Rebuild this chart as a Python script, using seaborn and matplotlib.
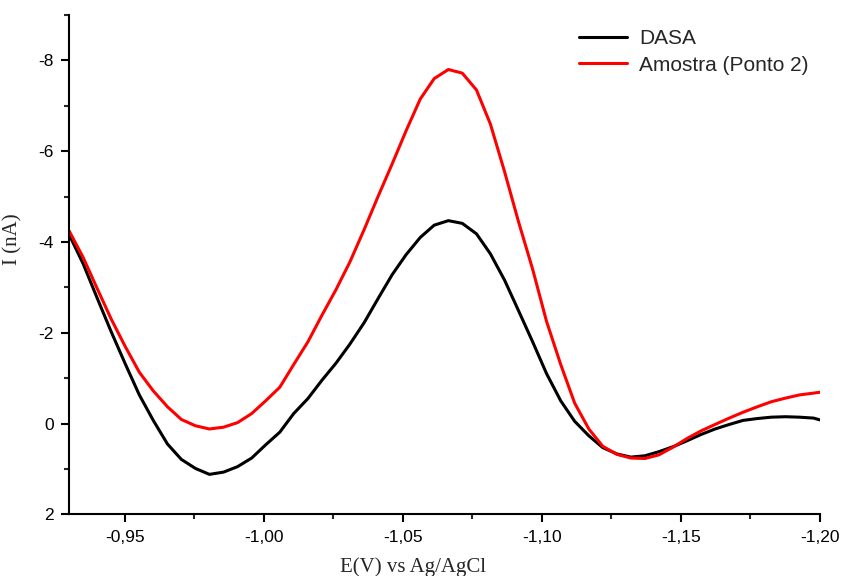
import numpy as np
import pandas as pd
import matplotlib
matplotlib.use("Agg")
import matplotlib.pyplot as plt
from matplotlib.ticker import FixedLocator, FuncFormatter
import seaborn as sns

# Potential (V vs Ag/AgCl)
potential = [
    -0.9300, -0.9351, -0.9401, -0.9452, -0.9502, -0.9553, -0.9603, -0.9654,
    -0.9704, -0.9755, -0.9805, -0.9856, -0.9906, -0.9957, -1.0007, -1.0058,
    -1.0108, -1.0159, -1.0209, -1.0260, -1.0310, -1.0361, -1.0411, -1.0462,
    -1.0512, -1.0563, -1.0613, -1.0664, -1.0714, -1.0765, -1.0815, -1.0866,
    -1.0916, -1.0967, -1.1017, -1.1068, -1.1118, -1.1169, -1.1219, -1.1270,
    -1.1320, -1.1371, -1.1421, -1.1472, -1.1522, -1.1573, -1.1623, -1.1674,
    -1.1724, -1.1775, -1.1825, -1.1876, -1.1926, -1.1977, -1.2000,
]

# Current (nA)
dasa = [
    -4.17, -3.52, -2.77, -2.02, -1.32, -0.63, -0.07, 0.45,
    0.79, 0.99, 1.12, 1.07, 0.95, 0.76, 0.47, 0.19,
    -0.22, -0.55, -0.95, -1.33, -1.75, -2.22, -2.75, -3.28,
    -3.72, -4.10, -4.37, -4.47, -4.41, -4.18, -3.74, -3.16,
    -2.49, -1.80, -1.10, -0.50, -0.05, 0.27, 0.53, 0.67,
    0.74, 0.71, 0.62, 0.51, 0.38, 0.24, 0.12, 0.02,
    -0.07, -0.11, -0.14, -0.15, -0.14, -0.12, -0.08,
]

amostra = [
    -4.25, -3.66, -2.98, -2.30, -1.70, -1.13, -0.72, -0.37,
    -0.09, 0.05, 0.12, 0.08, -0.02, -0.22, -0.50, -0.80,
    -1.30, -1.80, -2.38, -2.95, -3.56, -4.27, -5.00, -5.72,
    -6.45, -7.15, -7.60, -7.80, -7.72, -7.35, -6.60, -5.55,
    -4.45, -3.40, -2.25, -1.30, -0.45, 0.12, 0.50, 0.68,
    0.76, 0.77, 0.69, 0.52, 0.33, 0.16, 0.02, -0.12,
    -0.25, -0.37, -0.48, -0.56, -0.63, -0.67, -0.69,
]

series_names = ["DASA", "Amostra (Ponto 2)"]
series_colors = ["#000000", "#ff0000"]

x_ticks = [-0.95, -1.00, -1.05, -1.10, -1.15, -1.20]
y_ticks = [-8, -6, -4, -2, 0, 2]

df = pd.concat([
    pd.DataFrame({"E": potential, "I": dasa, "serie": series_names[0]}),
    pd.DataFrame({"E": potential, "I": amostra, "serie": series_names[1]}),
], ignore_index=True)

sns.set_theme(style="ticks")
plt.rcParams["font.family"] = ["Liberation Sans", "DejaVu Sans"]

fig = plt.figure(figsize=(8.41, 5.76), dpi=100)
ax = fig.add_axes([0.0820, 0.1071, 0.8930, 0.8668])

sns.lineplot(
    data=df, x="E", y="I", hue="serie", hue_order=series_names,
    palette=series_colors, sort=False, estimator=None, linewidth=2.2,
    ax=ax, legend=False,
)

ax.set_xlim(-0.93, -1.20)
ax.set_ylim(2, -9)

ax.xaxis.set_major_locator(FixedLocator(x_ticks))
ax.xaxis.set_minor_locator(FixedLocator([v - 0.025 for v in [-0.925] + x_ticks]))
ax.xaxis.set_major_formatter(FuncFormatter(lambda v, p: f"{v:.2f}".replace(".", ",")))
ax.yaxis.set_major_locator(FixedLocator(y_ticks))
ax.yaxis.set_minor_locator(FixedLocator([-9, -7, -5, -3, -1, 1]))
ax.yaxis.set_major_formatter(FuncFormatter(lambda v, p: f"{int(round(v))}"))

for side in ("top", "right"):
    ax.spines[side].set_visible(False)
for side in ("left", "bottom"):
    ax.spines[side].set_linewidth(1.5)
    ax.spines[side].set_color("black")

ax.tick_params(axis="both", which="major", direction="out", length=6, width=1.5,
               labelsize=12.5, colors="black", pad=5)
ax.tick_params(axis="both", which="minor", direction="out", length=3.5, width=1.5)

ax.set_xlabel("E(V) vs Ag/AgCl", family="Liberation Serif", fontsize=15)
ax.set_ylabel("I (nA)", family="Liberation Serif", fontsize=15)
ax.xaxis.set_label_coords(0.458, -0.086)
ax.yaxis.set_label_coords(-0.062, 0.551)

handles = [plt.Line2D([], [], color=c, linewidth=2.2) for c in series_colors]
ax.legend(handles, series_names, loc="upper left", bbox_to_anchor=(0.679, 0.972),
          frameon=False, fontsize=15, handlelength=2.3, handletextpad=0.58,
          labelspacing=0.37, borderaxespad=0, borderpad=0)

fig.savefig("out.png", dpi=100)
